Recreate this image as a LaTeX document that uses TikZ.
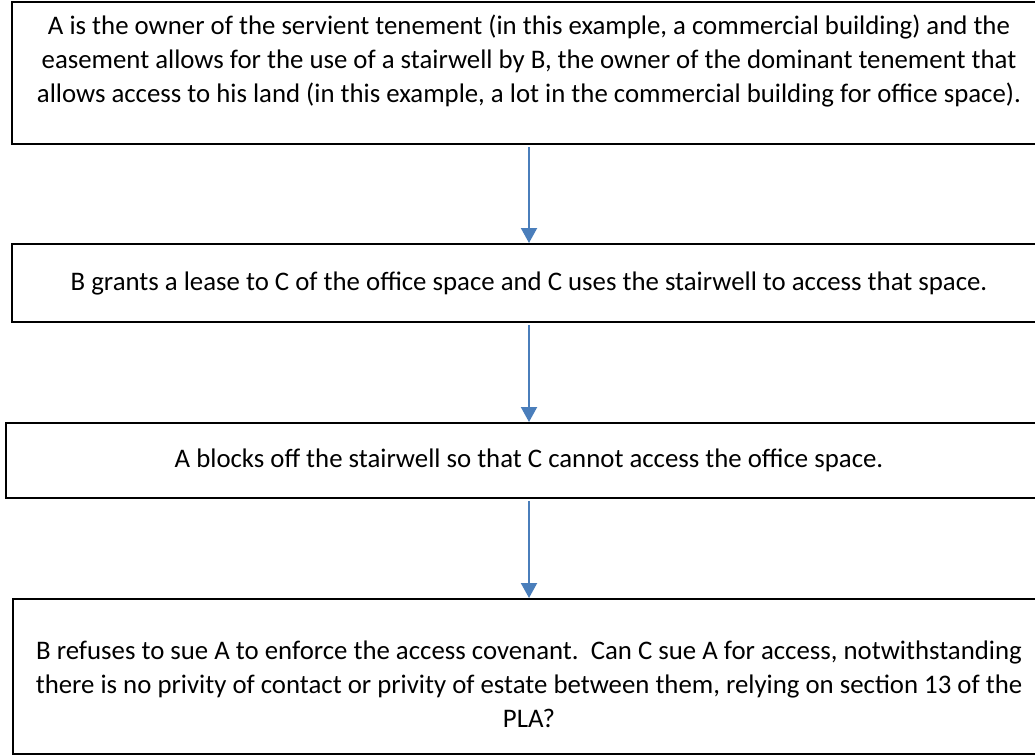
\documentclass[tikz,border=0pt]{standalone}
\usepackage{fontspec}
\setmainfont{Carlito}
\usetikzlibrary{arrows.meta}
\definecolor{arrowblue}{RGB}{74,126,187}
\tikzset{
  boxframe/.style={draw=black, line width=1.8pt, inner sep=0pt, anchor=north west},
  boxtext/.style={align=center, inner sep=0pt, font=\fontsize{26.8}{34}\selectfont},
  flow/.style={draw=arrowblue, line width=2pt, -{Triangle[length=15pt,width=16pt]}, shorten <=2pt}
}
\begin{document}
\begin{tikzpicture}[x=1pt,y=-1pt]
\useasboundingbox (0,0) rectangle (1035,755);
\clip (0,0) rectangle (1035,755);
% boxes
\node[boxframe, minimum width=1036pt, minimum height=142pt] (b1) at (11,1) {};
\node[boxframe, minimum width=1036pt, minimum height=78pt] (b2) at (11,243) {};
\node[boxframe, minimum width=1048pt, minimum height=75pt] (b3) at (5,422) {};
\node[boxframe, minimum width=1034pt, minimum height=155pt] (b4) at (12,598) {};
% texts
\node[boxtext] (t1) at (529,61) {A is the owner of the servient tenement (in this example, a commercial building) and the\\
easement allows for the use of a stairwell by B, the owner of the dominant tenement that\\
allows access to his land (in this example, a lot in the commercial building for office space).};
\node[boxtext] (t2) at (529,283) {B grants a lease to C of the office space and C uses the stairwell to access that space.};
\node[boxtext] (t3) at (529,460) {A blocks off the stairwell so that C cannot access the office space.};
\node[boxtext] (t4) at (529,684) {B refuses to sue A to enforce the access covenant.\ \ Can C sue A for access, notwithstanding\\
there is no privity of contact or privity of estate between them, relying on section 13 of the\\
PLA?};
% connectors
\draw[flow] (b1.south -| t1.center) -- (b2.north -| t1.center);
\draw[flow] (b2.south -| t1.center) -- (b3.north -| t1.center);
\draw[flow] (b3.south -| t1.center) -- (b4.north -| t1.center);
\end{tikzpicture}
\end{document}
